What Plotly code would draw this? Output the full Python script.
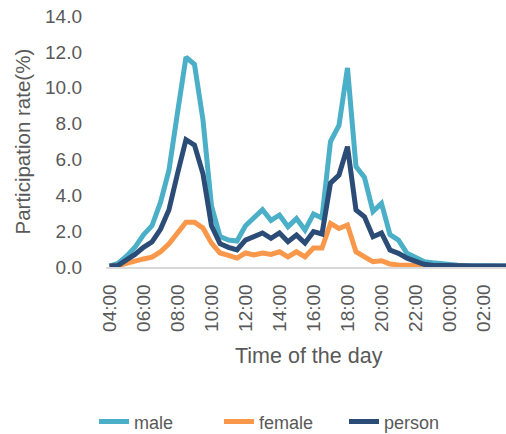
import plotly.graph_objects as go

times = [f"{(4 + i // 2) % 24:02d}:{'00' if i % 2 == 0 else '30'}" for i in range(48)]

male = [0.05, 0.2, 0.6, 1.1, 1.8, 2.3, 3.6, 5.4, 8.6, 11.7, 11.3, 8.2,
        3.4, 1.7, 1.5, 1.45, 2.3, 2.8, 3.2, 2.6, 2.9, 2.25, 2.7, 2.06,
        2.96, 2.73, 7.0, 7.9, 11.1, 5.6, 5.0, 3.1, 3.55, 1.8, 1.5, 0.76,
        0.49, 0.3, 0.24, 0.17, 0.12, 0.1, 0.08, 0.07, 0.06, 0.06, 0.06, 0.06]
female = [0.03, 0.08, 0.2, 0.35, 0.45, 0.55, 0.85, 1.3, 1.9, 2.5, 2.5, 2.17,
          1.33, 0.78, 0.65, 0.5, 0.78, 0.67, 0.78, 0.7, 0.85, 0.57, 0.85, 0.57,
          1.06, 1.06, 2.43, 2.15, 2.34, 0.85, 0.57, 0.3, 0.35, 0.17, 0.11, 0.1,
          0.05, 0.03, 0.02, 0.02, 0.02, 0.02, 0.02, 0.02, 0.02, 0.02, 0.02, 0.02]
person = [0.05, 0.08, 0.4, 0.7, 1.1, 1.4, 2.1, 3.2, 5.2, 7.1, 6.8, 5.2,
          2.3, 1.3, 1.1, 0.95, 1.5, 1.7, 1.9, 1.6, 1.9, 1.41, 1.78, 1.34,
          1.97, 1.84, 4.68, 5.13, 6.71, 3.18, 2.8, 1.69, 1.9, 0.95, 0.76, 0.49,
          0.35, 0.15, 0.1, 0.08, 0.06, 0.05, 0.05, 0.05, 0.05, 0.05, 0.05, 0.05]

tick_labels = ["04:00", "06:00", "08:00", "10:00", "12:00", "14:00",
               "16:00", "18:00", "20:00", "22:00", "00:00", "02:00"]
y_ticks = [0, 2, 4, 6, 8, 10, 12, 14]

idx = list(range(len(times)))
FONT = "Liberation Sans"
GRAY = "#595959"

fig = go.Figure()
for name, vals, col in [("male", male, "#4BAFC8"),
                        ("female", female, "#F9974A"),
                        ("person", person, "#2C4C78")]:
    fig.add_trace(go.Scatter(x=idx, y=vals, name=name, mode="lines",
                             line=dict(color=col, width=5),
                             customdata=times,
                             hovertemplate="%{customdata}: %{y}<extra>" + name + "</extra>"))

fig.update_layout(
    width=506, height=434,
    margin=dict(l=106, r=0, t=16, b=167, autoexpand=False),
    paper_bgcolor="white", plot_bgcolor="white",
    font=dict(family=FONT, color=GRAY, size=18),
    showlegend=True,
    legend=dict(orientation="h", x=-0.03, xanchor="left",
                y=-0.617, yanchor="middle", font=dict(size=18, color=GRAY),
                entrywidth=80, entrywidthmode="pixels", tracegroupgap=0),
    xaxis=dict(range=[-0.41, 46.65], tickmode="array",
               tickvals=[i * 4 for i in range(len(tick_labels))],
               ticktext=tick_labels, tickangle=-90, automargin=False,
               showgrid=False, zeroline=False, showline=True,
               linecolor="#D9D9D9", linewidth=1.5, ticks="",
               ticklabelstandoff=8, tickfont=dict(size=19, color=GRAY)),
    yaxis=dict(range=[0, 14], tickmode="array", tickvals=y_ticks,
               ticktext=[f"{v:.1f}" for v in y_ticks], automargin=False,
               showgrid=False, zeroline=False, showline=False, ticks="",
               ticklabelstandoff=23, tickfont=dict(size=19, color=GRAY)),
    annotations=[
        dict(text="Participation rate(%)", xref="paper", yref="paper",
             x=-0.21, y=0.5, textangle=-90, showarrow=False,
             font=dict(size=20.5, color=GRAY), xanchor="center", yanchor="middle"),
        dict(text="Time of the day", xref="paper", yref="paper",
             x=0.507, y=-0.355, showarrow=False,
             font=dict(size=21.5, color=GRAY), xanchor="center", yanchor="middle"),
    ],
)

fig.write_html("out.html", config={"displayModeBar": False},
               post_script="document.body.style.margin='0';document.body.style.overflow='hidden';")
